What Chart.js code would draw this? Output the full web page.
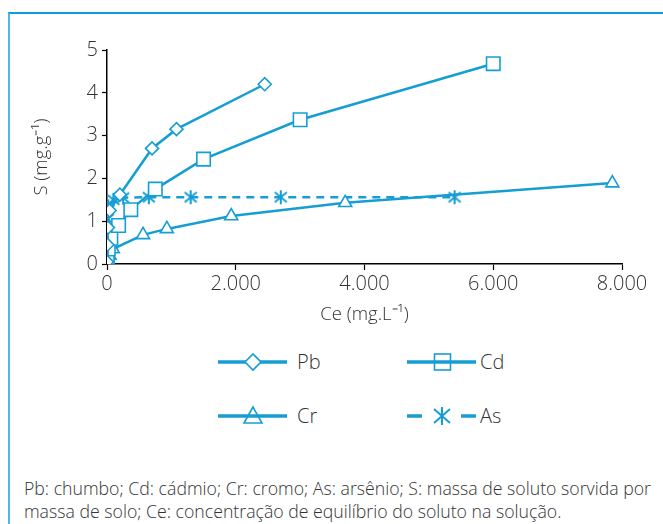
<!DOCTYPE html>
<html><head><meta charset="utf-8">
<script src="https://cdn.jsdelivr.net/npm/chart.js@4/dist/chart.umd.min.js"></script>
<style>
html,body{margin:0;padding:0;background:#fff;width:663px;height:524px;overflow:hidden;font-family:"Open Sans",sans-serif;font-weight:300;color:#333;}
#frame{position:absolute;left:8px;top:12px;width:700px;height:600px;border-left:2px solid #4db8e6;border-top:2px solid #0a9fdb;}
#wrap{position:absolute;left:0;top:0;width:663px;height:330px;}
.leg{position:absolute;display:flex;align-items:center;font-size:20px;color:#333;}
.leg svg{display:block}
#note{position:absolute;left:24px;top:477px;font-size:17.7px;line-height:23px;color:#333;white-space:nowrap;}
</style></head>
<body>
<div id="frame"></div>
<div id="wrap"><canvas id="c" width="663" height="330"></canvas></div>
<div class="leg" style="left:218px;top:348px"><svg width="70" height="26"><line x1="0" y1="13" x2="69" y2="13" stroke="#169ed4" stroke-width="3.5"/><polygon points="35,5 43,13 35,21 27,13" fill="#fff" stroke="#169ed4" stroke-width="1.6"/></svg><span style="margin-left:9px">Pb</span></div>
<div class="leg" style="left:407px;top:348px"><svg width="70" height="26"><line x1="0" y1="13" x2="69" y2="13" stroke="#169ed4" stroke-width="3.5"/><rect x="27.5" y="5" width="16" height="16" fill="none" stroke="#169ed4" stroke-width="1.6"/></svg><span style="margin-left:3px">Cd</span></div>
<div class="leg" style="left:218px;top:402px"><svg width="70" height="26"><line x1="0" y1="13" x2="69" y2="13" stroke="#169ed4" stroke-width="3.5"/><polygon points="35,4 44,20 26,20" fill="none" stroke="#169ed4" stroke-width="1.6"/></svg><span style="margin-left:9px">Cr</span></div>
<div class="leg" style="left:407px;top:402px"><svg width="70" height="26"><line x1="0" y1="13" x2="15" y2="13" stroke="#169ed4" stroke-width="3.5"/><line x1="54" y1="13" x2="69" y2="13" stroke="#169ed4" stroke-width="3.5"/><g stroke="#169ed4" stroke-width="2"><line x1="35" y1="4" x2="35" y2="22"/><line x1="27" y1="6" x2="43" y2="20"/><line x1="43" y1="6" x2="27" y2="20"/></g></svg><span style="margin-left:3px">As</span></div>
<div id="note">Pb: chumbo; Cd: cádmio; Cr: cromo; As: arsênio; S: massa de soluto sorvida por<br>massa de solo; Ce: concentração de equilíbrio do soluto na solução.</div>
<script>
// ---- data ----
const seriesNames = ['Pb', 'Cd', 'Cr', 'As'];
const pbCe = [0, 5, 15, 40, 200, 700, 1080, 2450];
const pbS  = [0.05, 0.45, 0.85, 1.25, 1.62, 2.7, 3.15, 4.2];
const cdCe = [0, 5, 20, 60, 180, 370, 750, 1500, 3000, 6000];
const cdS  = [0.02, 0.15, 0.35, 0.6, 0.9, 1.27, 1.75, 2.45, 3.37, 4.68];
const crCe = [0, 10, 40, 90, 560, 930, 1930, 3700, 7850];
const crS  = [0.02, 0.1, 0.2, 0.35, 0.68, 0.82, 1.12, 1.43, 1.89];
const asCe = [0, 5, 10, 20, 100, 250, 650, 1300, 2700, 5400];
const asS  = [0.4, 0.8, 1.05, 1.35, 1.5, 1.55, 1.56, 1.56, 1.56, 1.56];
const xTickLabels = ['0', '2.000', '4.000', '6.000', '8.000'];
const yTickLabels = ['0', '1', '2', '3', '4', '5'];
const xTitle = 'Ce (mg.L⁻¹)';
const yTitle = 'S (mg.g⁻¹)';

const BLUE = '#169ed4';
function pts(xs, ys){ return xs.map((x,i)=>({x:x, y:ys[i]})); }

// six-armed asterisk marker
const star = document.createElement('canvas');
star.width = 16; star.height = 16;
(function(){
  const g = star.getContext('2d');
  g.strokeStyle = BLUE; g.lineWidth = 2;
  g.beginPath();
  g.moveTo(8,1); g.lineTo(8,15);
  g.moveTo(2,3); g.lineTo(14,13);
  g.moveTo(14,3); g.lineTo(2,13);
  g.stroke();
})();

const common = {borderColor: BLUE, backgroundColor: '#fff', pointBorderColor: BLUE, pointBackgroundColor: '#fff',
  borderWidth: 2.5, pointBorderWidth: 1.6, tension: 0, fill: false};

new Chart(document.getElementById('c'), {
  type: 'line',
  data: { datasets: [
    Object.assign({label: seriesNames[0], data: pts(pbCe, pbS), pointStyle: 'rectRot', pointRadius: 6.5}, common),
    Object.assign({label: seriesNames[1], data: pts(cdCe, cdS), pointStyle: 'rect', pointRadius: 9.5}, common),
    Object.assign({label: seriesNames[2], data: pts(crCe, crS), pointStyle: 'triangle', pointRadius: 7.5}, common),
    Object.assign({label: seriesNames[3], data: pts(asCe, asS), pointStyle: star, borderDash: [8, 6]}, common)
  ]},
  options: {
    responsive: false, animation: false, events: [],
    layout: {padding: {left: 0, top: 50, right: 41, bottom: 0}},
    plugins: {legend: {display: false}, tooltip: {enabled: false}},
    scales: {
      x: {type: 'linear', min: 0, max: 8000,
        afterFit: s => { s.height = 66; },
        ticks: {stepSize: 2000, color: '#333', padding: 2, font: {family: 'Open Sans', size: 20, weight: 300},
          callback: (v) => xTickLabels[Math.round(v/2000)], maxRotation: 0},
        grid: {drawOnChartArea: false, tickLength: 6, tickColor: '#000', tickWidth: 1.2},
        border: {color: '#000', width: 1.5},
        title: {display: true, text: xTitle, color: '#333', padding: {top: 1}, font: {family: 'Open Sans', size: 18.5, weight: 300}}
      },
      y: {type: 'linear', min: 0, max: 5,
        afterFit: s => { s.width = 107; },
        ticks: {stepSize: 1, color: '#333', padding: 4, font: {family: 'Open Sans', size: 20, weight: 300},
          callback: (v) => yTickLabels[Math.round(v)]},
        grid: {drawOnChartArea: false, tickLength: 5, tickColor: '#000', tickWidth: 1.2},
        border: {color: '#000', width: 1.5},
        title: {display: true, text: yTitle, color: '#333', padding: {top: 31, bottom: 0}, font: {family: 'Open Sans', size: 18.5, weight: 300}}
      }
    }
  }
});
</script>
</body></html>
